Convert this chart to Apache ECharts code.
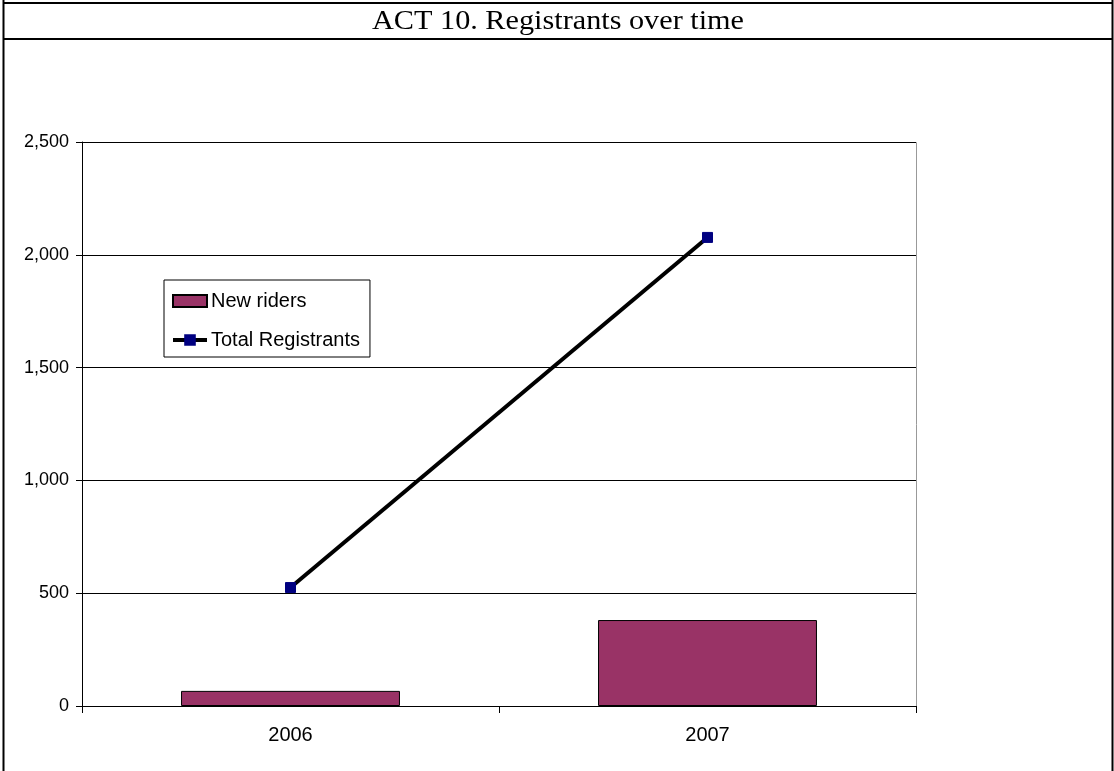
<!DOCTYPE html>
<html>
<head>
<meta charset="utf-8">
<script src="https://cdn.jsdelivr.net/npm/echarts@6/dist/echarts.min.js"></script>
<style>
html,body{margin:0;padding:0;background:#fff;}
#chart{width:1114px;height:771px;}
</style>
</head>
<body>
<div id="chart"></div>
<script>
const titleText = 'ACT 10. Registrants over time';
const categories = ['2006', '2007'];
const newRiders = [67, 381];
const totalRegistrants = [525, 2077];
const yTicks = { min: 0, max: 2500, interval: 500 };

const chart = echarts.init(document.getElementById('chart'));
chart.setOption({
  backgroundColor: '#ffffff',
  animation: false,
  graphic: [
    { type: 'line', shape: { x1: 3.5, y1: 0, x2: 3.5, y2: 771 }, style: { stroke: '#000', lineWidth: 2 } },
    { type: 'line', shape: { x1: 1112.5, y1: 0, x2: 1112.5, y2: 771 }, style: { stroke: '#000', lineWidth: 2 } },
    { type: 'line', shape: { x1: 3, y1: 3, x2: 1113, y2: 3 }, style: { stroke: '#000', lineWidth: 2 } },
    { type: 'line', shape: { x1: 3, y1: 39, x2: 1113, y2: 39 }, style: { stroke: '#000', lineWidth: 2 } },
    { type: 'text', x: 558, y: 22, scaleX: 1.08, scaleY: 1, originX: 0, originY: 0,
      style: { text: titleText, font: '28px "Liberation Serif", "Times New Roman", serif', fill: '#000', textAlign: 'center', textVerticalAlign: 'middle' } },
    { type: 'rect', shape: { x: 82.5, y: 142.5, width: 834, height: 564 }, style: { fill: 'none', stroke: '#999', lineWidth: 1 }, z: 0 }
  ],
  grid: { left: 82, right: 198, top: 142, bottom: 65, containLabel: false },
  legend: {
    left: 164, top: 280,
    orient: 'vertical',
    padding: [11, 10, 7, 7],
    itemGap: 19,
    itemWidth: 34, itemHeight: 12,
    borderColor: '#000', borderWidth: 1,
    backgroundColor: '#fff',
    textStyle: { fontFamily: '"Liberation Sans", Arial, sans-serif', fontSize: 20, color: '#000', padding: [0,0,0,-1] },
    data: [
      { name: 'New riders', icon: 'rect' },
      { name: 'Total Registrants', lineStyle: { width: 4, color: '#000' }, itemStyle: { color: '#000080' } }
    ]
  },
  xAxis: {
    type: 'category',
    data: categories,
    boundaryGap: true,
    axisLine: { lineStyle: { color: '#000', width: 1 } },
    axisTick: { show: true, length: 7, lineStyle: { color: '#000' } },
    axisLabel: { color: '#000', fontSize: 20, fontFamily: '"Liberation Sans", Arial, sans-serif', margin: 19 },
    splitLine: { show: false }
  },
  yAxis: {
    type: 'value',
    min: yTicks.min, max: yTicks.max, interval: yTicks.interval,
    axisLine: { show: true, lineStyle: { color: '#000', width: 1 } },
    axisTick: { show: true, length: 6, lineStyle: { color: '#000' } },
    axisLabel: {
      color: '#000', fontSize: 18, fontFamily: '"Liberation Sans", Arial, sans-serif', margin: 13,
      formatter: v => v.toLocaleString('en-US')
    },
    splitLine: { show: true, lineStyle: { color: '#000', width: 1 } }
  },
  series: [
    {
      name: 'New riders',
      type: 'bar',
      data: newRiders,
      barWidth: '52.5%',
      itemStyle: { color: '#993366', borderColor: '#000', borderWidth: 1 },
      z: 2
    },
    {
      name: 'Total Registrants',
      type: 'line',
      data: totalRegistrants,
      symbol: 'rect',
      symbolSize: 10,
      lineStyle: { color: '#000', width: 4 },
      itemStyle: { color: '#000080', borderColor: '#000080', borderWidth: 1 },
      z: 3
    }
  ]
});
</script>
</body>
</html>
